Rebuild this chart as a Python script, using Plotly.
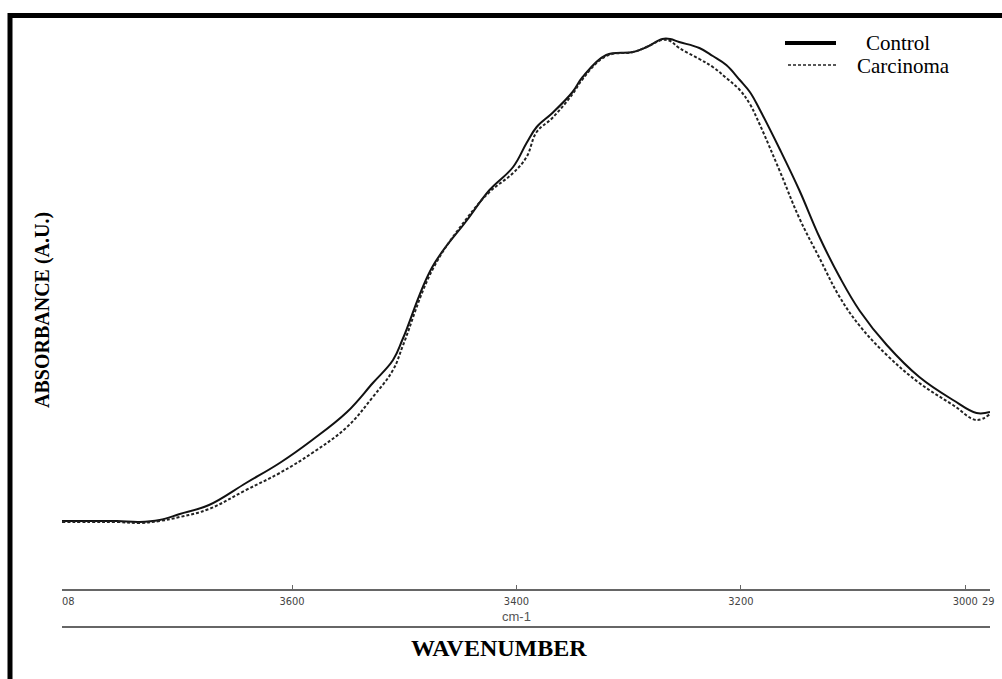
import plotly.graph_objects as go

# Wavenumber grid (cm-1)
wavenumber = [3805, 3780, 3756, 3736, 3718, 3700, 3674, 3641, 3611, 3582, 3551, 3528, 3510, 3501,
              3475, 3444, 3424, 3403, 3391, 3382, 3368, 3350, 3341, 3320, 3296, 3284, 3270, 3263,
              3255, 3237, 3225, 3213, 3201, 3192, 3183, 3165, 3148, 3130, 3112, 3094, 3070, 3041,
              3011, 2990, 2978]

control = [0.038, 0.038, 0.038, 0.036, 0.040, 0.052, 0.070, 0.114, 0.154, 0.200, 0.256, 0.314,
           0.360, 0.404, 0.546, 0.640, 0.700, 0.746, 0.794, 0.826, 0.854, 0.896, 0.926, 0.970,
           0.976, 0.986, 1.002, 1.002, 0.996, 0.984, 0.968, 0.950, 0.920, 0.896, 0.860, 0.780,
           0.700, 0.606, 0.526, 0.458, 0.390, 0.326, 0.280, 0.254, 0.256]

carcinoma = [0.036, 0.036, 0.036, 0.034, 0.038, 0.046, 0.062, 0.100, 0.134, 0.174, 0.226, 0.286,
             0.340, 0.390, 0.540, 0.644, 0.696, 0.734, 0.766, 0.816, 0.844, 0.892, 0.922, 0.968,
             0.976, 0.986, 1.000, 0.998, 0.984, 0.962, 0.946, 0.924, 0.900, 0.872, 0.830, 0.736,
             0.644, 0.564, 0.486, 0.428, 0.370, 0.314, 0.270, 0.240, 0.252]

tick_vals = [3600, 3400, 3200, 3000]
tick_text = ["3600", "3400", "3200", "3000"]
x_range = [3805, 2978]
y_range = [-0.098, 1.04]

W, H = 1002, 679
L, R, T, B = 62, 12, 20, 90
PW, PH = W - L - R, H - T - B


def px(x):
    return (x - L) / PW


def py(y):
    return (H - B - y) / PH


TICK_FONT = dict(family="DejaVu Sans Condensed, Liberation Sans Narrow, Arial Narrow, Liberation Sans",
                 size=11, color="#444444")
SERIF = "Liberation Serif, Times New Roman, serif"

fig = go.Figure()
fig.add_trace(go.Scatter(x=wavenumber, y=control, mode="lines", name="Control",
                         line=dict(color="#111111", width=2, shape="spline", smoothing=1.1),
                         showlegend=False))
fig.add_trace(go.Scatter(x=wavenumber, y=carcinoma, mode="lines", name="Carcinoma",
                         line=dict(color="#222222", width=2, dash="3px,2px", shape="spline", smoothing=1.1),
                         showlegend=False))

shapes = [
    # outer black frame (extends beyond the image on the right and bottom)
    dict(type="rect", xref="paper", yref="paper", x0=px(10), x1=px(1030), y0=py(700), y1=py(15.5),
         line=dict(color="black", width=5), fillcolor="rgba(0,0,0,0)", layer="above"),
    # second axis line under "cm-1"
    dict(type="line", xref="paper", yref="paper", x0=0, x1=1, y0=py(627), y1=py(627),
         line=dict(color="#666666", width=2)),
    # legend samples
    dict(type="line", xref="paper", yref="paper", x0=px(785), x1=px(836), y0=py(43), y1=py(43),
         line=dict(color="black", width=4)),
    dict(type="line", xref="paper", yref="paper", x0=px(788), x1=px(836), y0=py(65), y1=py(65),
         line=dict(color="#222222", width=1.5, dash="3px,2px")),
]

annotations = [
    dict(text="Control", xref="paper", yref="paper", x=px(864), y=py(43), xanchor="left", yanchor="middle",
         showarrow=False, font=dict(family=SERIF, size=21, color="black")),
    dict(text="Carcinoma", xref="paper", yref="paper", x=px(855), y=py(66), xanchor="left", yanchor="middle",
         showarrow=False, font=dict(family=SERIF, size=21, color="black")),
    dict(text="cm-1", xref="x", yref="paper", x=3400, y=py(616), xanchor="center", yanchor="middle",
         showarrow=False, font=dict(family="Liberation Sans, Arial", size=13, color="#555555")),
    dict(text="<b>WAVENUMBER</b>", xref="paper", yref="paper", x=px(499), y=py(648), xanchor="center",
         yanchor="middle", showarrow=False, font=dict(family=SERIF, size=24, color="black")),
    dict(text="<b>ABSORBANCE (A.U.)</b>", xref="paper", yref="paper", x=px(42), y=py(310), xanchor="center",
         yanchor="middle", textangle=-90, showarrow=False, font=dict(family=SERIF, size=20, color="black")),
    dict(text="08", xref="paper", yref="paper", x=px(60), y=py(601), xanchor="left", yanchor="middle",
         showarrow=False, font=TICK_FONT),
    dict(text="29", xref="paper", yref="paper", x=px(980), y=py(601), xanchor="left", yanchor="middle",
         showarrow=False, font=TICK_FONT),
]

fig.update_layout(
    width=W, height=H,
    margin=dict(l=L, r=R, t=T, b=B),
    paper_bgcolor="white", plot_bgcolor="white",
    shapes=shapes, annotations=annotations,
    xaxis=dict(range=x_range, tickmode="array", tickvals=tick_vals, ticktext=tick_text,
               showgrid=False, zeroline=False, showline=True, linecolor="#666666", linewidth=2,
               ticks="inside", ticklen=4, tickcolor="#666666", tickwidth=1,
               tickfont=TICK_FONT, ticklabelstandoff=1),
    yaxis=dict(range=y_range, visible=False, showgrid=False, zeroline=False),
)

fig.write_html("out.html")
